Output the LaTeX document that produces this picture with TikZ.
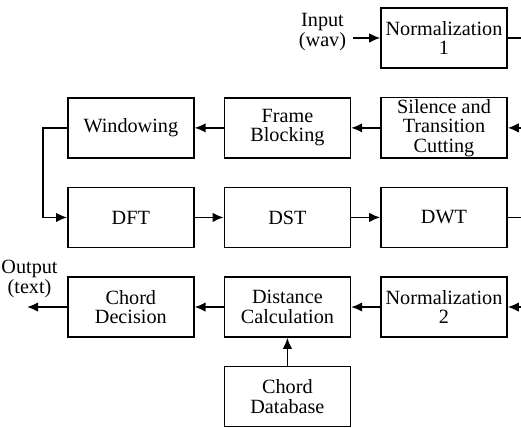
\documentclass[tikz,border=0pt]{standalone}
\usepackage{fontspec}
\setmainfont{Liberation Serif}
\usetikzlibrary{arrows.meta,positioning}

\begin{document}
\begin{tikzpicture}[node distance=0.56cm and 0.58cm, >={Latex[length=2.2mm,width=1.9mm]}, line width=0.9pt,
  every node/.style={font=\fontsize{11.5}{11}\selectfont, align=center},
  blockbox/.style={draw, minimum width=2.52cm, minimum height=1.2cm, inner sep=1pt}]
\useasboundingbox (0,0) rectangle (10.42,-8.54);
\coordinate (edge) at (10.42,0);

\node[blockbox] (norma) at (8.88,-0.76) {Normalization\\1};
\node[left=0.55cm of norma, yshift=0.12cm] (in) {Input\\(wav)};

\node[blockbox, below=of norma] (silence) {Silence and\\Transition\\Cutting};
\node[blockbox, left=of silence] (frame) {Frame\\Blocking};
\node[blockbox, left=of frame] (window) {Windowing};

\node[blockbox, below=of window] (dft) {DFT};
\node[blockbox, right=of dft] (dst) {DST};
\node[blockbox, right=of dst] (dwt) {DWT};

\node[blockbox, below=of dwt] (normb) {Normalization\\2};
\node[blockbox, left=of normb] (dist) {Distance\\Calculation};
\node[blockbox, left=of dist] (decision) {Chord\\Decision};
\node[blockbox, below=of dist] (db) {Chord\\Database};

\coordinate[left=0.8cm of decision.west] (outend);
\node[above=0.06cm of outend, xshift=0.05cm] (out) {Output\\(text)};

\draw[->] (in.east |- norma.west) -- (norma.west);
\draw (norma.east) -- (norma.east -| edge);
\draw[->] (silence.east -| edge) -- (silence.east);
\draw[->] (silence) -- (frame);
\draw[->] (frame) -- (window);
\draw[->] (window.west) -- ++(-0.48,0) |- (dft.west);
\draw[->] (dft) -- (dst);
\draw[->] (dst) -- (dwt);
\draw (dwt.east) -- (dwt.east -| edge);
\draw[->] (normb.east -| edge) -- (normb.east);
\draw[->] (normb) -- (dist);
\draw[->] (dist) -- (decision);
\draw[->] (db) -- (dist);
\draw[->] (decision.west) -- (outend);
\end{tikzpicture}
\end{document}
